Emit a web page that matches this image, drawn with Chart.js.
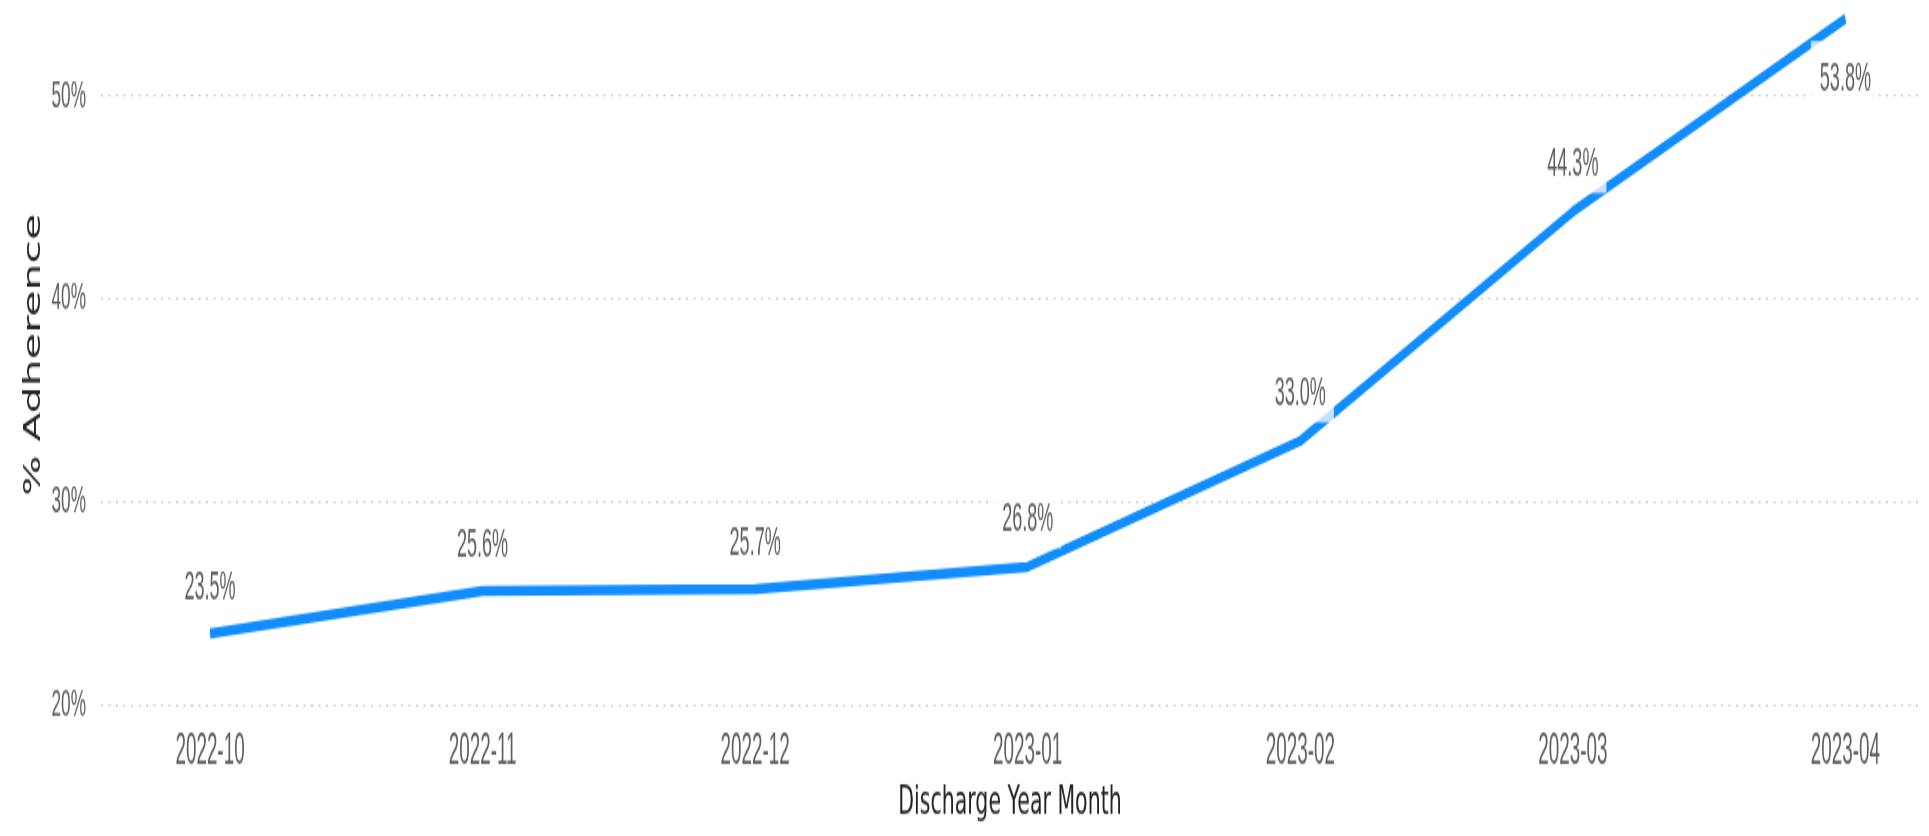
<!DOCTYPE html>
<html>
<head>
<meta charset="utf-8">
<script src="https://cdn.jsdelivr.net/npm/chart.js@4.4.1/dist/chart.umd.min.js"></script>
<style>
html,body{margin:0;padding:0;background:#fff;overflow:hidden;width:1929px;height:836px}
#wrap{position:absolute;left:0;top:0;width:1929px;height:452px;transform:scaleY(1.8496);transform-origin:0 0}
canvas{display:block}
</style>
</head>
<body>
<div id="wrap"><canvas id="c" width="1929" height="452" style="width:1929px;height:452px"></canvas></div>
<script>
const categories = ['2022-10','2022-11','2022-12','2023-01','2023-02','2023-03','2023-04'];
const adherence = [23.5, 25.6, 25.7, 26.8, 33.0, 44.3, 53.8];
const yTickValues = [20, 30, 40, 50];
const xTitle = 'Discharge Year Month';
const yTitle = '% Adherence';

const NARROW = '"Liberation Sans", Arial, sans-serif';

// condensed rendering for the number / tick font (imitates a DIN-style condensed face)
const canvas = document.getElementById('c');
const ctx2d = canvas.getContext('2d');
const origFillText = ctx2d.fillText.bind(ctx2d);
ctx2d.fillText = function (t, x, y, mw) {
  if (this.font.indexOf('Liberation') !== -1) {
    const w = this.measureText(t).width * 0.82;
    mw = (mw === undefined) ? w : Math.min(mw, w);
    return origFillText(t, x, y, mw);
  }
  return mw === undefined ? origFillText(t, x, y) : origFillText(t, x, y, mw);
};

const labelPlugin = {
  id: 'valueLabels',
  afterDatasetsDraw(chart) {
    const ctx = chart.ctx;
    const meta = chart.getDatasetMeta(0);
    ctx.save();
    ctx.font = '22px ' + NARROW;
    ctx.textAlign = 'center';
    ctx.textBaseline = 'middle';
    meta.data.forEach((pt, i) => {
      const txt = adherence[i].toFixed(1) + '%';
      const w = ctx.measureText(txt).width * 0.82;
      let cy = pt.y - 25;
      let above = true;
      if (cy - 10 < chart.chartArea.top) { cy = pt.y + 33; above = false; }
      const bx = pt.x - w / 2 - 9;
      const bw = w + 17;
      let by, bh;
      if (above) { by = cy - 11; bh = (pt.y - 10) - by; }
      else { by = pt.y + 12; bh = (cy + 11) - by; }
      ctx.fillStyle = 'rgba(255,255,255,0.75)';
      ctx.fillRect(bx, by, bw, bh);
      ctx.fillStyle = '#605E5C';
      ctx.fillText(txt, pt.x, cy);
    });
    ctx.restore();
  }
};

new Chart(canvas, {
  type: 'line',
  data: {
    datasets: [{
      data: adherence.map((v, i) => ({x: i, y: v})),
      borderColor: '#118DFF',
      borderWidth: 5.5,
      pointRadius: 0,
      pointHoverRadius: 0,
      tension: 0,
      fill: false,
      borderJoinStyle: 'round'
    }]
  },
  options: {
    responsive: false,
    animation: false,
    devicePixelRatio: 1,
    layout: {padding: {top: 2.5, right: 10, left: 0, bottom: 0}},
    plugins: {legend: {display: false}, tooltip: {enabled: false}},
    scales: {
      x: {
        type: 'linear',
        min: -0.4,
        max: 6.27,
        afterBuildTicks: s => { s.ticks = categories.map((_, i) => ({value: i})); },
        afterFit: s => { s.height = 71; s.paddingLeft = 0; s.paddingRight = 0; },
        grid: {display: false},
        border: {display: false},
        ticks: {
          autoSkip: false,
          maxRotation: 0,
          padding: 4,
          color: '#605E5C',
          font: {family: NARROW, size: 23},
          callback: v => categories[v] ?? ''
        },
        title: {
          display: true,
          text: xTitle,
          color: '#252423',
          font: {family: '"DejaVu Sans", sans-serif', size: 20.5},
          padding: {top: 6, bottom: 5}
        }
      },
      y: {
        min: 20,
        max: 54.5,
        afterBuildTicks: s => { s.ticks = yTickValues.map(v => ({value: v})); },
        afterFit: s => { s.width = 101; s.paddingTop = 0; s.paddingBottom = 0; },
        grid: {color: '#C8C8C8', lineWidth: 1, drawTicks: false},
        border: {display: false, dash: [2, 5.5]},
        ticks: {
          padding: 15,
          color: '#605E5C',
          font: {family: NARROW, size: 21},
          callback: v => v + '%'
        },
        title: {
          display: true,
          text: yTitle,
          color: '#252423',
          font: {family: '"DejaVu Sans", sans-serif', size: 23},
          padding: {top: 20, bottom: 4}
        }
      }
    }
  },
  plugins: [labelPlugin]
});
</script>
</body>
</html>
